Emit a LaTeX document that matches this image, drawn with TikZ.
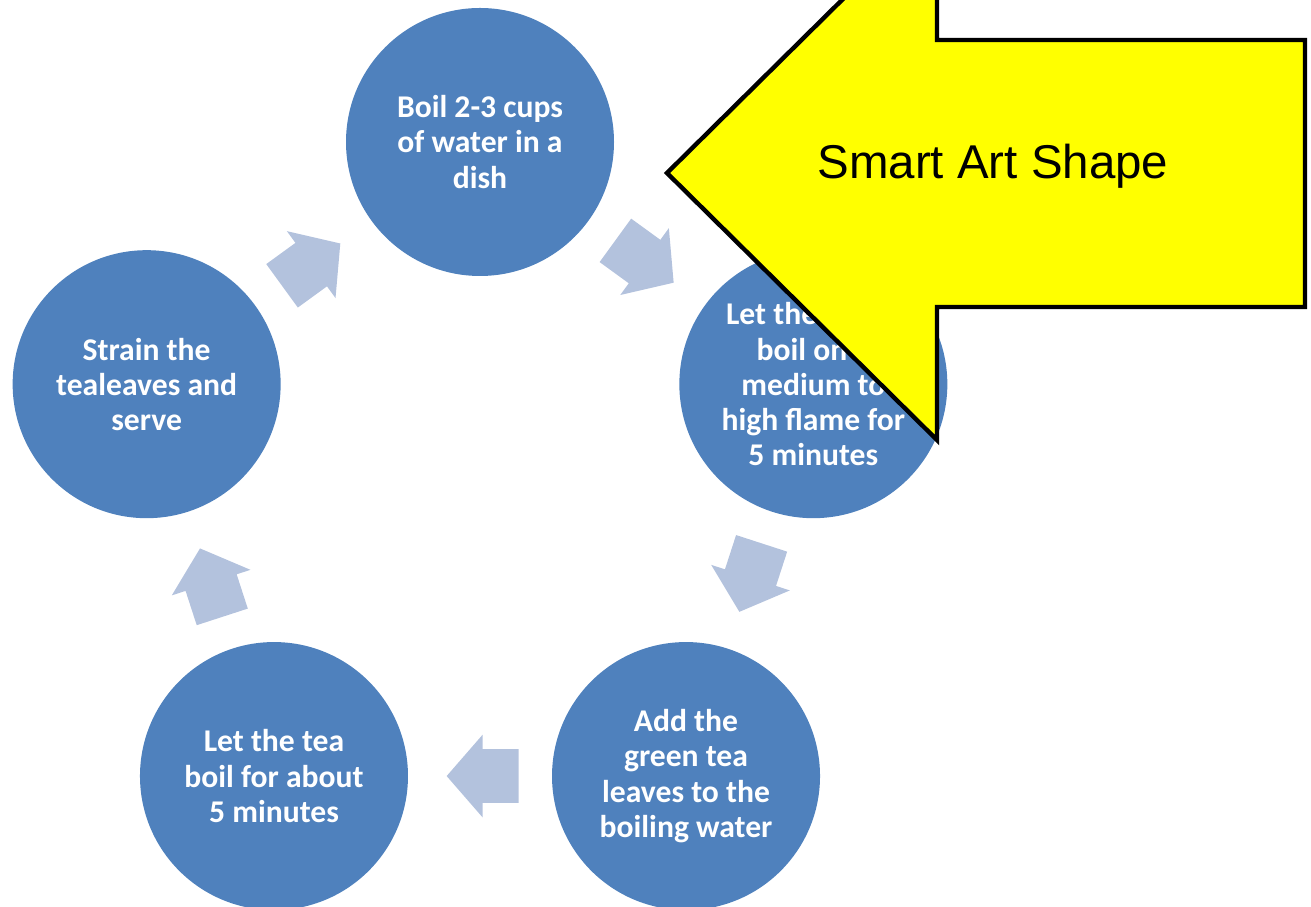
\documentclass[tikz,border=0pt]{standalone}
\usepackage{fontspec}
\setmainfont{Carlito}
\newfontfamily\arialfont{Liberation Sans}
\usetikzlibrary{
        positioning,
        shapes.arrows
    }
\definecolor{stepblue}{HTML}{4F81BD}
\definecolor{flowblue}{HTML}{B3C2DD}
\definecolor{calloutyellow}{HTML}{FFFF00}
\tikzset{
    stepcircle/.style={circle,fill=stepblue,minimum size=5.36cm,inner sep=0pt,
        align=center,text=white,font=\fontsize{18}{20}\selectfont\bfseries},
    flowarrow/.style={single arrow,fill=flowblue,inner xsep=0pt,inner ysep=0.53cm,
        minimum height=1.44cm,
        single arrow head extend=0.29cm,single arrow tip angle=98,
        pos=0.4,sloped,allow upside down}
}

\begin{document}
\begin{tikzpicture}[]
    \clip (-9.6,9.85) rectangle (16.62,-8.29);
        % the five steps round the cycle
        \node[stepcircle] (s1) at (90:7.01)   {Boil 2-3 cups\\of water in a\\dish};
        \node[stepcircle] (s2) at (18:7.01)   {Let the water\\boil on a\\medium to\\high flame for\\5 minutes};
        \node[stepcircle] (s3) at (-54:7.01)  {Add the\\green tea\\leaves to the\\boiling water};
        \node[stepcircle] (s4) at (-126:7.01) {Let the tea\\boil for about\\5 minutes};
        \node[stepcircle] (s5) at (162:7.01)  {Strain the\\tealeaves and\\serve};
    \path
            (s1) -- node[flowarrow] {} (s2)
            (s2) -- node[flowarrow] {} (s3)
            (s3) -- node[flowarrow] {} (s4)
            (s4) -- node[flowarrow] {} (s5)
            (s5) -- node[flowarrow] {} (s1)
            ;
        % callout arrow on top
        \draw[fill=calloutyellow,line width=2.5pt,line join=miter]
            (3.74,6.39) -- (9.14,11.73) -- (9.14,9.05) -- (16.5,9.05)
            -- (16.5,3.71) -- (9.14,3.71) -- (9.14,1.05) -- cycle;
        \node[font=\arialfont\fontsize{27}{32}\selectfont] (label) at (10.26,6.53) {Smart Art Shape};
    \end{tikzpicture}
\end{document}
